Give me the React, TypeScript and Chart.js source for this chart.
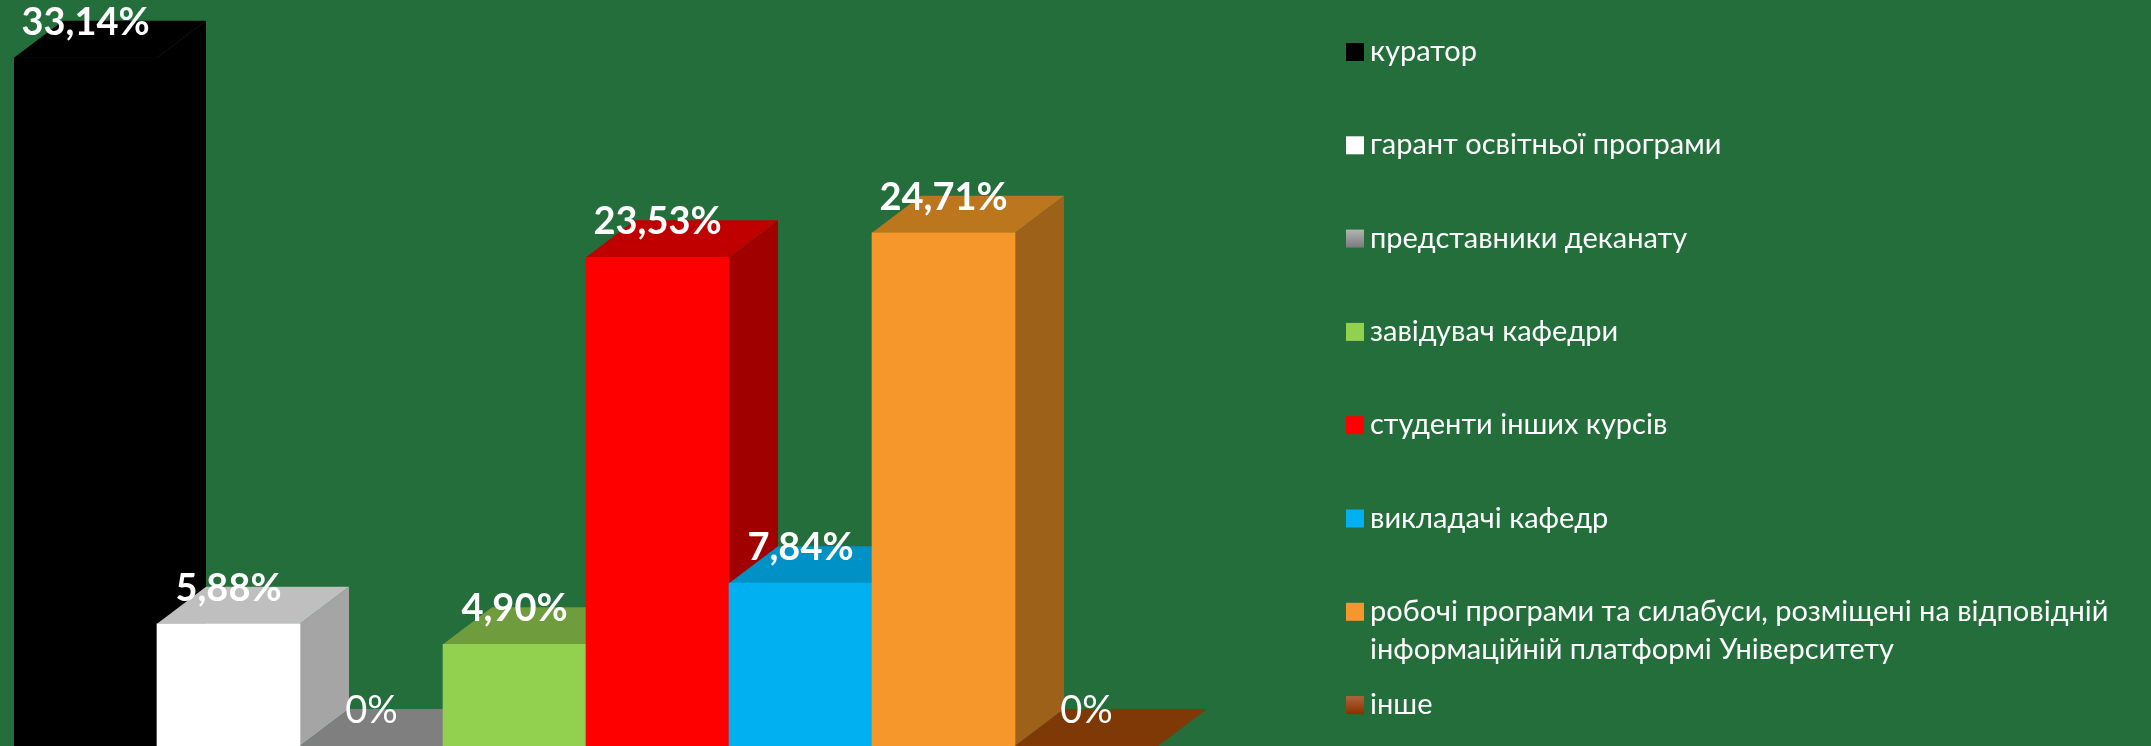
import React, { useEffect, useRef } from 'react';
import { Chart, registerables } from 'chart.js';

Chart.register(...registerables);

// ---- data ----
const categories = [
  'куратор',
  'гарант освітньої програми',
  'представники деканату',
  'завідувач кафедри',
  'студенти інших курсів',
  'викладачі кафедр',
  'робочі програми та силабуси, розміщені на відповідній інформаційній платформі Університету',
  'інше',
];
const values = [33.14, 5.88, 0, 4.9, 23.53, 7.84, 24.71, 0];
const yMin = 0;
const yMax = 35;

// ---- styles ----
const BG = '#236e3b';
const frontColors = ['#000000', '#ffffff', '#808080', '#92d050', '#ff0000', '#00b0f0', '#f5972a', '#8a3f0a'];
const topColors = ['#000000', '#bfbfbf', '#7f7f7f', '#6f9c3d', '#c00000', '#0092c6', '#bb761e', '#7f3906'];
const sideColors = ['#000000', '#a5a5a5', '#6a6a6a', '#5a8232', '#a00000', '#0078a8', '#9d6119', '#6a2f05'];
const swatchTop = ['#000000', '#ffffff', '#b4b4b4', '#92d050', '#ff0000', '#00b0f0', '#f5972a', '#b0643c'];
const swatchBottom = ['#000000', '#ffffff', '#7a7a7a', '#92d050', '#ff0000', '#00b0f0', '#f5972a', '#8a3000'];
const DEPTH_X = 49;
const DEPTH_Y = 37;
const LABEL_FONT = 'Lato, "Open Sans", sans-serif';
const LEGEND_FONT = 'Lato, "Open Sans", sans-serif';

function fmt(v: number): string {
  if (v === 0) return '0%';
  return v.toFixed(2).replace('.', ',') + '%';
}

const bar3d = {
  id: 'bar3d',
  beforeDatasetsDraw(chart: any) {
    const ctx = chart.ctx as CanvasRenderingContext2D;
    const meta = chart.getDatasetMeta(0);
    ctx.save();
    meta.data.forEach((el: any, i: number) => {
      const p = el.getProps(['x', 'y', 'base', 'width'], true);
      const L = p.x - p.width / 2;
      const R = p.x + p.width / 2;
      const top = p.y;
      const base = p.base;
      // side face
      ctx.fillStyle = sideColors[i];
      ctx.beginPath();
      ctx.moveTo(R, top);
      ctx.lineTo(R + DEPTH_X, top - DEPTH_Y);
      ctx.lineTo(R + DEPTH_X, base - DEPTH_Y);
      ctx.lineTo(R, base);
      ctx.closePath();
      ctx.fill();
      // top face
      ctx.fillStyle = topColors[i];
      ctx.beginPath();
      ctx.moveTo(L, top);
      ctx.lineTo(R, top);
      ctx.lineTo(R + DEPTH_X, top - DEPTH_Y);
      ctx.lineTo(L + DEPTH_X, top - DEPTH_Y);
      ctx.closePath();
      ctx.fill();
    });
    ctx.restore();
  },
};

const valueLabels = {
  id: 'valueLabels',
  afterDatasetsDraw(chart: any) {
    const ctx = chart.ctx as CanvasRenderingContext2D;
    const meta = chart.getDatasetMeta(0);
    ctx.save();
    ctx.fillStyle = '#ffffff';
    ctx.textAlign = 'center';
    ctx.textBaseline = 'alphabetic';
    meta.data.forEach((el: any, i: number) => {
      const v = values[i];
      ctx.font = (v === 0 ? '' : 'bold ') + '38px ' + LABEL_FONT;
      ctx.fillText(fmt(v), el.x, el.y - 23);
    });
    ctx.restore();
  },
};

const sideLegend = {
  id: 'sideLegend',
  afterDraw(chart: any) {
    const ctx = chart.ctx as CanvasRenderingContext2D;
    const x0 = 1346;
    const textX = 1370;
    const firstCenter = 52;
    const step = 93.3;
    const box = 18;
    const maxW = 770;
    const lineH = 38;
    ctx.save();
    ctx.font = '29px ' + LEGEND_FONT;
    ctx.textAlign = 'left';
    ctx.textBaseline = 'alphabetic';
    categories.forEach((label, i) => {
      const cy = firstCenter + step * i;
      const g = ctx.createLinearGradient(0, cy - box / 2, 0, cy + box / 2);
      g.addColorStop(0, swatchTop[i]);
      g.addColorStop(1, swatchBottom[i]);
      ctx.fillStyle = g;
      ctx.fillRect(x0, cy - box / 2, box, box);
      // wrap
      const words = label.split(' ');
      const lines: string[] = [];
      let cur = '';
      words.forEach((w) => {
        const t = cur ? cur + ' ' + w : w;
        if (ctx.measureText(t).width > maxW && cur) {
          lines.push(cur);
          cur = w;
        } else cur = t;
      });
      if (cur) lines.push(cur);
      ctx.fillStyle = '#ffffff';
      lines.forEach((ln, k) => {
        ctx.fillText(ln, textX, cy + 9 + k * lineH);
      });
    });
    ctx.restore();
  },
};

export default function App() {
  const ref = useRef<HTMLCanvasElement>(null);
  useEffect(() => {
    const canvas = ref.current;
    if (!canvas) return;
    const chart = new Chart(canvas, {
      type: 'bar',
      data: {
        labels: categories,
        datasets: [
          {
            data: values,
            backgroundColor: frontColors,
            borderWidth: 0,
            categoryPercentage: 1,
            barPercentage: 1,
          },
        ],
      },
      options: {
        animation: false,
        responsive: false,
        devicePixelRatio: 1,
        layout: { padding: { left: 14, right: 993, top: 19, bottom: 0 } },
        scales: {
          x: { display: false },
          y: { display: false, min: yMin, max: yMax },
        },
        plugins: { legend: { display: false }, tooltip: { enabled: false } },
      },
      plugins: [bar3d, valueLabels, sideLegend],
    } as any);
    return () => chart.destroy();
  }, []);
  return (
    <div style={{ position: 'fixed', left: 0, top: 0, width: 2151, height: 746, background: BG, overflow: 'hidden' }}>
      <canvas ref={ref} width={2151} height={746} style={{ display: 'block' }} />
    </div>
  );
}
